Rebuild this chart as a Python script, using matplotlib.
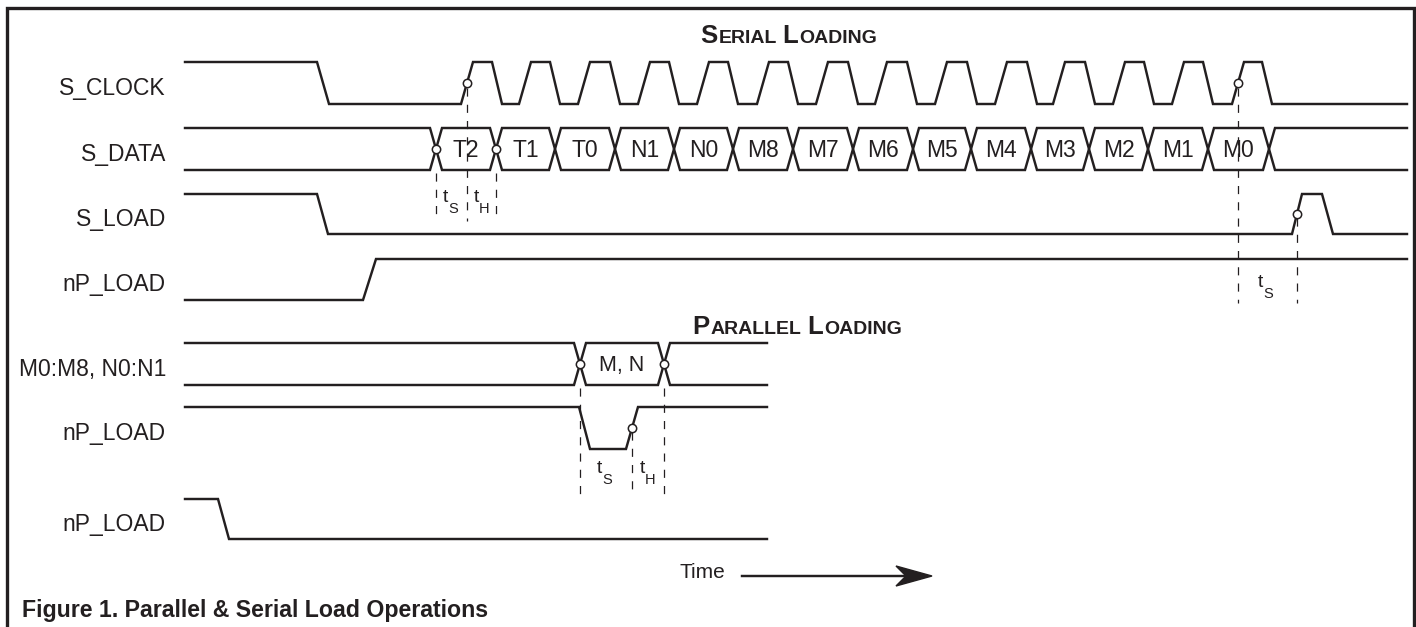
import matplotlib
matplotlib.use("Agg")
import matplotlib.pyplot as plt
from matplotlib import transforms

plt.rcParams['font.family'] = ['Liberation Sans', 'DejaVu Sans']

W, H = 1416, 627

X_START = 185
SERIAL_END = 1407
PARALLEL_END = 767

# rows: label, y of high level, y of low level (pixels from top)
ROW_NAMES = ["S_CLOCK", "S_DATA", "S_LOAD", "nP_LOAD", "M0:M8, N0:N1", "nP_LOAD", "nP_LOAD"]
ROW_HIGH = [62, 128, 194, 259, 343, 407, 499]
ROW_LOW = [104, 170, 234, 300, 385, 449, 539]

# serial clock
CLK_FIRST_FALL = (317, 329)
CLK_RISE = [461, 519, 578, 638, 697, 757, 816, 875, 935, 995, 1053, 1113, 1172, 1232]
CLK_FALL = [492, 550, 610, 669, 728, 788, 848, 907, 967, 1027, 1085, 1144, 1203, 1262]
RISE_T, FALL_T = 12, 10

# serial data bus
SDATA_CROSS = [436, 496, 555, 615, 674, 733, 793, 853, 913, 971, 1031, 1089, 1148, 1208, 1269]
SDATA_BITS = ["T2", "T1", "T0", "N1", "N0", "M8", "M7", "M6", "M5", "M4", "M3", "M2", "M1", "M0"]

# single-level signals: transitions (start, end)
SLOAD_EDGES = [(317, 328), (1292, 1302), (1322, 1333)]
NPLOAD_SER_EDGES = [(363, 376)]
NPLOAD_PAR_EDGES = [(579, 590), (626, 638)]
NPLOAD_3_EDGES = [(218, 229)]

# parallel bus
PBUS_CROSS = [580, 664]
PBUS_LABEL = "M, N"

# reference circles (x, y)
MARKS_X = [467, 436, 496, 1238, 1297, 580, 664, 632]
MARKS_Y = [83, 149, 149, 83, 214, 364, 364, 428]

# dashed timing guides (x, y top, y bottom)
GUIDE_X = [436, 467, 496, 1238, 1297, 580, 664, 632]
GUIDE_Y0 = [173, 88, 173, 88, 218, 388, 388, 432]
GUIDE_Y1 = [215, 221, 215, 303, 303, 497, 497, 497]

# timing labels: x, baseline y, subscript
TLAB_X = [443, 474, 1258, 597, 640]
TLAB_Y = [202, 202, 287, 473, 473]
TLAB_SUB = ["S", "H", "S", "S", "H"]

LW = 1.75
INK = '#231f20'
fig = plt.figure(figsize=(W / 100, H / 100), dpi=100)
ax = fig.add_axes([0, 0, 1, 1])
ax.set_xlim(0, W)
ax.set_ylim(H, 0)
ax.axis('off')
renderer = fig.canvas.get_renderer()


def digital(row, level, edges, x1):
    hi, lo = ROW_HIGH[row], ROW_LOW[row]
    xs, ys = [X_START], [level]
    for a, b in edges:
        xs += [a, b]
        ys += [level, 1 - level]
        level = 1 - level
    xs.append(x1)
    ys.append(level)
    ax.plot(xs, [lo - v * (lo - hi) for v in ys], color=INK, lw=LW,
            solid_joinstyle='miter', zorder=3)


def bus(row, cross, x1, hw=6):
    hi, lo = ROW_HIGH[row], ROW_LOW[row]
    for start in (0, 1):
        xs, ys = [X_START], [start]
        lvl = start
        for c in cross:
            xs += [c - hw, c + hw]
            ys += [lvl, 1 - lvl]
            lvl = 1 - lvl
        xs.append(x1)
        ys.append(lvl)
        ax.plot(xs, [lo - v * (lo - hi) for v in ys], color=INK, lw=LW,
                solid_joinstyle='miter', zorder=3)


clk_edges = [CLK_FIRST_FALL]
for r, f in zip(CLK_RISE, CLK_FALL):
    clk_edges += [(r, r + RISE_T), (f, f + FALL_T)]
digital(0, 1, clk_edges, SERIAL_END)
bus(1, SDATA_CROSS, SERIAL_END)
digital(2, 1, SLOAD_EDGES, SERIAL_END)
digital(3, 0, NPLOAD_SER_EDGES, SERIAL_END)
bus(4, PBUS_CROSS, PARALLEL_END)
digital(5, 1, NPLOAD_PAR_EDGES, PARALLEL_END)
digital(6, 1, NPLOAD_3_EDGES, PARALLEL_END)

# row labels
for name, hi, lo in zip(ROW_NAMES, ROW_HIGH, ROW_LOW):
    ax.text(166, (hi + lo) / 2 + 12, name, ha='right', va='baseline',
            fontsize=16.5, color=INK)

# bit labels
mid = (ROW_HIGH[1] + ROW_LOW[1]) / 2
for a, b, s in zip(SDATA_CROSS[:-1], SDATA_CROSS[1:], SDATA_BITS):
    ax.text((a + b) / 2, mid + 8, s, ha='center', va='baseline', fontsize=16.5,
            color=INK, zorder=4)
pmid = (ROW_HIGH[4] + ROW_LOW[4]) / 2
ax.text((PBUS_CROSS[0] + PBUS_CROSS[1]) / 2, pmid + 7, PBUS_LABEL, ha='center',
        va='baseline', fontsize=15.5, color=INK)

# dashed guides
for x, y0, y1 in zip(GUIDE_X, GUIDE_Y0, GUIDE_Y1):
    ax.plot([x, x], [y0, y1], color=INK, lw=0.9, dashes=(6.5, 6.5), zorder=2)

# circles
ax.plot(MARKS_X, MARKS_Y, 'o', ms=6, mfc='white', mec=INK, mew=1.1,
        zorder=5, ls='none')

# t_S / t_H labels
for x, y, sub in zip(TLAB_X, TLAB_Y, TLAB_SUB):
    ax.text(x, y, "t", ha='left', va='baseline', fontsize=14, color=INK)
    ax.text(x + 5, y + 11, sub, ha='left', va='baseline', fontsize=10.5, color=INK)


def small_caps(x, y, parts):
    tr = ax.transData
    for s, size, gap in parts:
        tr = transforms.offset_copy(tr, x=gap, units='dots')
        txt = ax.text(x, y, s, transform=tr, fontsize=size, fontweight='bold',
                      ha='left', va='baseline', color=INK)
        ex = txt.get_window_extent(renderer)
        tr = transforms.offset_copy(tr, x=ex.width, units='dots')


small_caps(700, 43, [("S", 18.5, 0), ("ERIAL", 14, 1), ("L", 18.5, 6), ("OADING", 14, 1)])
small_caps(692, 334, [("P", 18.5, 0), ("ARALLEL", 14, 1), ("L", 18.5, 6), ("OADING", 14, 1)])

# time arrow
ax.text(679, 578, "Time", ha='left', va='baseline', fontsize=15, color=INK)
ax.plot([742, 915], [576, 576], color=INK, lw=LW)
ax.fill([932, 896, 906, 896], [576, 566, 576, 586], color=INK, lw=1)

# frame
ax.plot([7, 7, 1414, 1414], [627, 8, 8, 627], color=INK, lw=2.4,
        solid_joinstyle='miter')

ax.text(22, 617, "Figure 1. Parallel & Serial Load Operations", ha='left',
        va='baseline', fontsize=16.7, fontweight='bold', color=INK)

fig.savefig("out.png", dpi=100)
